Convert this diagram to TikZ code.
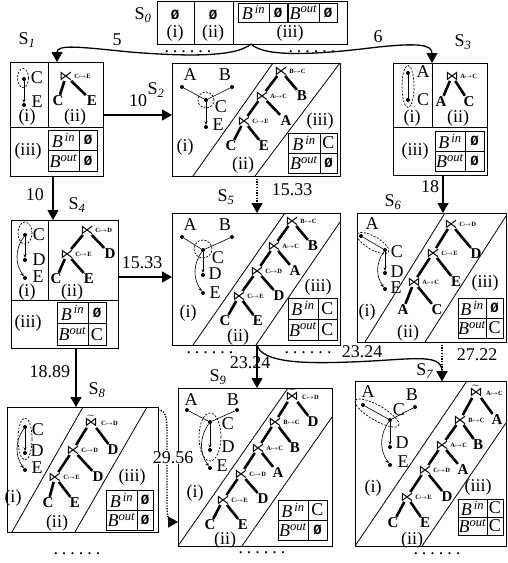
\documentclass[tikz,border=0pt]{standalone}
\usepackage{amssymb}
\usepackage{fontspec}
\setmainfont{Liberation Serif}
\newfontfamily\monof{Liberation Mono}
\newfontfamily\symf{DejaVu Sans}
\usetikzlibrary{arrows.meta,calc,fit}

\newcommand{\emp}{{\monof\bfseries\fontsize{14}{14}\selectfont Ø}}
\newcommand{\Bin}{\textit{B}\textsuperscript{\,\textit{in}}}
\newcommand{\Bout}{\textit{B}\textsuperscript{\textit{out}}}
\newcommand{\Sl}[1]{S\textsubscript{\textit{#1}}}
\newcommand{\sixdots}{.\hspace{4pt}.\hspace{4pt}.\hspace{4pt}.\hspace{4pt}.\hspace{4pt}.}
\newcommand{\jlt}[4]{\node[jn] (#1) at (#2) {⋉}; \node[sub] (#1s) at ([xshift=0.8pt]#1.east) {#3$\mapsto$#4};}
\newcommand{\jbt}[4]{\node[jn] (#1) at (#2) {⋈}; \node[sub] (#1s) at ([xshift=0.8pt]#1.east) {#3$\mapsto$#4};}
\newcommand{\jtt}[4]{\node[jn] (#1) at (#2) {$\widetilde{\hbox{\symf ⋈}}$}; \node[sub] (#1s) at ([xshift=2.5pt,yshift=-2.5pt]#1.east) {#3$\mapsto$#4};}
\newcommand{\btab}[9]{%
  \draw[tab] (#2,#5) rectangle (#4,#7);
  \draw[tab] (#2,#6) -- (#4,#6) (#3,#5) -- (#3,#7);
  \node[tt] (#1a) at ($(#2,#5)!0.5!(#3,#6)$) {\Bin};
  \node[tt] (#1b) at ($(#3,#5)!0.5!(#4,#6)$) {#8};
  \node[tt] (#1c) at ($(#2,#6)!0.5!(#3,#7)$) {\Bout};
  \node[tt] (#1d) at ($(#3,#6)!0.5!(#4,#7)$) {#9};
}

\tikzset{
 box/.style={draw, line width=0.9pt, inner sep=0pt, outer sep=0pt},
 div/.style={line width=0.9pt},
 band/.style={line width=0.8pt},
 tab/.style={line width=0.8pt},
 arr/.style={line width=1.3pt, -{Triangle[length=10pt,width=11pt]}},
 darr/.style={arr, dash pattern=on 1.3pt off 1.4pt},
 lbl/.style={inner sep=0pt, font=\fontsize{18}{18}\selectfont},
 tt/.style={inner sep=0pt, font=\fontsize{18}{18}\selectfont},
 gl/.style={inner sep=0pt, font=\fontsize{18}{18}\selectfont},
 gd/.style={circle, fill, inner sep=0pt, minimum size=4pt},
 ge/.style={line width=0.6pt},
 ga/.style={line width=0.6pt, -{Stealth[length=3.5pt,width=3pt]}},
 hull/.style={line width=0.7pt, dash pattern=on 2pt off 1.5pt},
 jn/.style={inner sep=0.3pt, font=\symf\fontsize{13}{13}\selectfont},
 sub/.style={anchor=west, inner sep=0.3pt, font=\fontsize{6.5}{6.5}\selectfont\bfseries},
 tc/.style={inner sep=1pt, font=\fontsize{15}{15}\selectfont\bfseries},
 tl/.style={line width=2.6pt},
 dts/.style={inner sep=0pt, font=\fontsize{18}{18}\selectfont},
}

\begin{document}
\begin{tikzpicture}[x=1pt,y=-1pt]
\useasboundingbox (0,0) rectangle (508,563);

% ---------- state boxes ----------
\node[box, fit={(157,1) (347,44)}] (S0) {};
\node[box, fit={(10,62) (103,176)}] (S1) {};
\node[box, fit={(172,63) (340,176)}] (S2) {};
\node[box, fit={(393,63) (487,175)}] (S3) {};
\node[box, fit={(11,220) (118,348)}] (S4) {};
\node[box, fit={(172,213) (340,345)}] (S5) {};
\node[box, fit={(357,213) (506,342)}] (S6) {};
\node[box, fit={(7,407) (158,532)}] (S8) {};
\node[box, fit={(178,388) (332,546)}] (S9) {};
\node[box, fit={(355,381) (506,546)}] (S7) {};

% dividers
\draw[div] (194,1) -- (194,44) (233,1) -- (233,44);
\draw[div] (48,62) -- (48,127) (10,127) -- (103,127);
\draw[div] (432,63) -- (432,127) (393,127) -- (487,127);
\draw[div] (48,220) -- (48,300) (11,300) -- (118,300);
% bands
\draw[band] (193,176) -- (273,63) (255,176) -- (340,63);
\draw[band] (193,345) -- (285,213) (256,345) -- (340,222);
\draw[band] (365,342) -- (445,213) (425,342) -- (506,216);
\draw[band] (12,532) -- (83,407) (75,532) -- (147,407);
\draw[band] (178,546) -- (288,388) (242,546) -- (332,417);
\draw[band] (355,546) -- (467,381) (422,546) -- (506,423);

% ---------- state labels ----------
\node[lbl] (l0) at (143,15) {\Sl{0}};
\node[lbl] (l1) at (27,40) {\Sl{1}};
\node[lbl] (l2) at (156,90) {\Sl{2}};
\node[lbl] (l3) at (463,42) {\Sl{3}};
\node[lbl] (l4) at (77,205) {\Sl{4}};
\node[lbl] (l5) at (226,197) {\Sl{5}};
\node[lbl] (l6) at (393,202) {\Sl{6}};
\node[lbl] (l7) at (425,371) {\Sl{7}};
\node[lbl] (l8) at (97,390) {\Sl{8}};
\node[lbl] (l9) at (218,377) {\Sl{9}};

% ---------- S0 ----------
\node[tt] (s0e1) at (175,15) {\emp};
\node[tt] (s0e2) at (213,15) {\emp};
\node[lbl] (s0i) at (175,33) {(i)};
\node[lbl] (s0ii) at (213,33) {(ii)};
\node[lbl] (s0iii) at (290,33) {(iii)};
\draw[tab] (238,3) rectangle (287,22) (269,3) -- (269,22);
\draw[tab] (288,3) rectangle (337,22) (319,3) -- (319,22);
\node[tt] (s0bi) at (253.5,12.5) {\Bin};
\node[tt] (s0vi) at (278,12.5) {\emp};
\node[tt] (s0bo) at (303.5,12.5) {\Bout};
\node[tt] (s0vo) at (328,12.5) {\emp};

% ---------- section labels ----------
\node[lbl] (s1i) at (27,117) {(i)};   \node[lbl] (s1ii) at (75,117) {(ii)};  \node[lbl] (s1iii) at (28,151) {(iii)};
\node[lbl] (s2i) at (185,147) {(i)};  \node[lbl] (s2ii) at (243,165) {(ii)}; \node[lbl] (s2iii) at (320,121) {(iii)};
\node[lbl] (s3i) at (412,118) {(i)};  \node[lbl] (s3ii) at (458,118) {(ii)}; \node[lbl] (s3iii) at (415,151) {(iii)};
\node[lbl] (s4i) at (27,292) {(i)};   \node[lbl] (s4ii) at (72,292) {(ii)};  \node[lbl] (s4iii) at (28,323) {(iii)};
\node[lbl] (s5i) at (188,313) {(i)};  \node[lbl] (s5ii) at (238,337) {(ii)}; \node[lbl] (s5iii) at (318,287) {(iii)};
\node[lbl] (s6i) at (367,312) {(i)};  \node[lbl] (s6ii) at (408,333) {(ii)}; \node[lbl] (s6iii) at (485,283) {(iii)};
\node[lbl] (s8i) at (13,498) {(i)};   \node[lbl] (s8ii) at (57,523) {(ii)};  \node[lbl] (s8iii) at (132,477) {(iii)};
\node[lbl] (s9i) at (195,493) {(i)};  \node[lbl] (s9ii) at (225,540) {(ii)};
\node[lbl] (s7i) at (373,488) {(i)};  \node[lbl] (s7ii) at (412,540) {(ii)}; \node[lbl] (s7iii) at (478,487) {(iii)};

% ---------- tables ----------
\btab{tb1}{48}{79}{97}{130}{150.5}{171}{\emp}{\emp}
\btab{tb2}{288}{320}{337}{133}{153}{173}{C}{\emp}
\btab{tb3}{435}{465}{484}{131}{151}{171}{\emp}{\emp}
\btab{tb4}{57}{88}{106}{302}{323.5}{345}{\emp}{C}
\btab{tb5}{288}{318}{337}{298}{319}{340}{C}{C}
\btab{tb6}{458}{486}{503}{298}{318}{338}{\emp}{C}
\btab{tb8}{106}{137}{153}{490}{510}{530}{\emp}{\emp}
\btab{tb9}{278}{308}{327}{500}{520}{540}{C}{\emp}
\btab{tb7}{458}{487}{503}{499}{517}{535}{C}{C}

% ---------- graphs (i) ----------
% S1
\node[gd] (g1C) at (24,79) {};  \node[gl] (g1Cl) at (37,78) {C};
\node[gd] (g1E) at (24,105) {}; \node[gl] (g1El) at (37,102) {E};
\draw[ga] (g1C) -- (g1E);
\draw[hull] (23,78) ellipse [x radius=5.5pt, y radius=9.5pt];
% S2
\node[gd] (g2A) at (182,87) {};  \node[gl] (g2Al) at (190,75) {A};
\node[gd] (g2B) at (232,87) {};  \node[gl] (g2Bl) at (225,75) {B};
\node[gd] (g2C) at (206,100) {}; \node[gl] (g2Cl) at (221,107) {C};
\node[gd] (g2E) at (206,127) {}; \node[gl] (g2El) at (218,125) {E};
\draw[ge] (g2A) -- (g2C); \draw[ge] (g2B) -- (g2C); \draw[ga] (g2C) -- (g2E);
\draw[hull] (206,100) circle [radius=8pt];
% S3
\node[gd] (g3A) at (408,73) {};  \node[gl] (g3Al) at (423,72) {A};
\node[gd] (g3C) at (408,100) {}; \node[gl] (g3Cl) at (423,100) {C};
\draw[ge, line width=0.9pt] (g3A) -- (g3C);
\draw[hull] (408,86.5) ellipse [x radius=6pt, y radius=21pt];
% S4
\node[gd] (g4C) at (25,235) {}; \node[gl] (g4Cl) at (39,235) {C};
\node[gd] (g4D) at (25,260) {}; \node[gl] (g4Dl) at (39,260) {D};
\node[gd] (g4E) at (25,278) {}; \node[gl] (g4El) at (38,277) {E};
\draw[ga] (g4C) -- (g4D); \draw[ga] (g4C) to[bend right=35] (g4E);
\draw[hull] (25,233) ellipse [x radius=7pt, y radius=11pt];
% S5
\node[gd] (g5A) at (182,237) {}; \node[gl] (g5Al) at (190,225) {A};
\node[gd] (g5B) at (232,237) {}; \node[gl] (g5Bl) at (225,225) {B};
\node[gd] (g5C) at (203,250) {}; \node[gl] (g5Cl) at (218,258) {C};
\node[gd] (g5D) at (203,275) {}; \node[gl] (g5Dl) at (215,274) {D};
\node[gd] (g5E) at (203,293) {}; \node[gl] (g5El) at (215,293) {E};
\draw[ge] (g5A) -- (g5C); \draw[ge] (g5B) -- (g5C);
\draw[ga] (g5C) -- (g5D); \draw[ga] (g5C) to[bend right=35] (g5E);
\draw[hull] (203,249) circle [radius=9pt];
% S6
\node[gd] (g6A) at (361,236) {}; \node[gl] (g6Al) at (372,224) {A};
\node[gd] (g6C) at (385,250) {}; \node[gl] (g6Cl) at (397,252) {C};
\node[gd] (g6D) at (385,273) {}; \node[gl] (g6Dl) at (397,272) {D};
\node[gd] (g6E) at (385,289) {}; \node[gl] (g6El) at (396,288) {E};
\draw[ge] (g6A) -- (g6C);
\draw[ga] (g6C) -- (g6D); \draw[ga] (g6C) to[bend right=35] (g6E);
\draw[hull] (373,243) ellipse [x radius=18pt, y radius=6.5pt, rotate=-30];
% S8
\node[gd] (g8C) at (25,427) {}; \node[gl] (g8Cl) at (38,430) {C};
\node[gd] (g8D) at (25,453) {}; \node[gl] (g8Dl) at (37,451) {D};
\node[gd] (g8E) at (25,470) {}; \node[gl] (g8El) at (37,468) {E};
\draw[ga] (g8C) -- (g8D); \draw[ga] (g8C) to[bend right=35] (g8E);
\draw[hull] (25,439) ellipse [x radius=7pt, y radius=21pt];
% S9
\node[gd] (g9A) at (187,410) {}; \node[gl] (g9Al) at (191,400) {A};
\node[gd] (g9B) at (237,410) {}; \node[gl] (g9Bl) at (233,400) {B};
\node[gd] (g9C) at (210,422) {}; \node[gl] (g9Cl) at (228,424) {C};
\node[gd] (g9D) at (210,450) {}; \node[gl] (g9Dl) at (228,447) {D};
\node[gd] (g9E) at (210,468) {}; \node[gl] (g9El) at (222,466) {E};
\draw[ge] (g9A) -- (g9C); \draw[ge] (g9B) -- (g9C);
\draw[ga] (g9C) -- (g9D); \draw[ga] (g9C) to[bend right=35] (g9E);
\draw[hull] (210,437) ellipse [x radius=11pt, y radius=24pt];
% S7
\node[gd] (g7A) at (363,405) {}; \node[gl] (g7Al) at (368,392) {A};
\node[gd] (g7B) at (415,407) {}; \node[gl] (g7Bl) at (412,395) {B};
\node[gd] (g7C) at (390,420) {}; \node[gl] (g7Cl) at (399,410) {C};
\node[gd] (g7D) at (390,447) {}; \node[gl] (g7Dl) at (402,443) {D};
\node[gd] (g7E) at (390,465) {}; \node[gl] (g7El) at (403,462) {E};
\draw[ge] (g7A) -- (g7C); \draw[ge] (g7B) -- (g7C);
\draw[ga] (g7C) -- (g7D); \draw[ga] (g7C) to[bend right=35] (g7E);
\draw[hull] (377,413) ellipse [x radius=25pt, y radius=7.5pt, rotate=-30];

% ---------- trees (ii) ----------
% S1
\jlt{t1a}{66,76}{C}{E}
\node[tc] (t1C) at (58,101) {C}; \node[tc] (t1E) at (92,101) {E};
% S2
\jlt{t2a}{281,71}{B}{C}
\jlt{t2b}{262,96}{A}{C}   \node[tc] (t2B) at (302,96) {B};
\jlt{t2c}{244,121}{C}{E}  \node[tc] (t2A) at (286,121) {A};
\node[tc] (t2C) at (231,146) {C}; \node[tc] (t2E) at (264,146) {E};
% S3
\jbt{t3a}{452,76}{A}{C}
\node[tc] (t3A) at (441,102) {A}; \node[tc] (t3C) at (469,102) {C};
% S4
\jlt{t4a}{87,230}{C}{D}
\jlt{t4b}{67,254}{C}{E}   \node[tc] (t4D) at (110,254) {D};
\node[tc] (t4C) at (56,279) {C}; \node[tc] (t4E) at (89,279) {E};
% S5
\jlt{t5a}{292,221}{B}{C}
\jlt{t5b}{274,246}{A}{C}  \node[tc] (t5B) at (313,246) {B};
\jlt{t5c}{257,271}{C}{D}  \node[tc] (t5A) at (295,271) {A};
\jlt{t5d}{239,296}{C}{E}  \node[tc] (t5D) at (279,296) {D};
\node[tc] (t5C) at (225,321) {C}; \node[tc] (t5E) at (258,321) {E};
% S6
\jlt{t6a}{451,224}{C}{D}
\jlt{t6b}{433,253}{C}{E}  \node[tc] (t6D) at (476,254) {D};
\jbt{t6c}{414,282}{A}{C}  \node[tc] (t6E) at (456,282) {E};
\node[tc] (t6A) at (403,310) {A}; \node[tc] (t6C) at (437,310) {C};
% S8
\jtt{t8a}{91,421}{C}{D}
\jlt{t8b}{73,450}{C}{D}   \node[tc] (t8D1) at (113,450) {D};
\jlt{t8c}{55,477}{C}{E}   \node[tc] (t8D2) at (98,477) {D};
\node[tc] (t8C) at (48,503) {C}; \node[tc] (t8E) at (75,503) {E};
% S9
\jtt{t9a}{292,395}{C}{D}
\jlt{t9b}{275,422}{B}{C}  \node[tc] (t9D1) at (313,422) {D};
\jlt{t9c}{258,448}{A}{C}  \node[tc] (t9B) at (295,448) {B};
\jlt{t9d}{241,474}{C}{D}  \node[tc] (t9A) at (278,473) {A};
\jlt{t9e}{223,500}{C}{E}  \node[tc] (t9D2) at (263,499) {D};
\node[tc] (t9C) at (210,525) {C}; \node[tc] (t9E) at (243,525) {E};
% S7
\jtt{t7a}{476,391}{A}{C}
\jlt{t7b}{460,420}{B}{C}  \node[tc] (t7A1) at (497,420) {A};
\jlt{t7c}{442,445}{A}{C}  \node[tc] (t7B) at (478,445) {B};
\jlt{t7d}{425,470}{C}{D}  \node[tc] (t7A2) at (463,470) {A};
\jlt{t7e}{407,497}{C}{E}  \node[tc] (t7D) at (447,497) {D};
\node[tc] (t7C) at (393,523) {C}; \node[tc] (t7E) at (425,523) {E};

\foreach \p/\c in {t1a/t1C, t1a/t1E,
  t2a/t2b, t2a/t2B, t2b/t2c, t2b/t2A, t2c/t2C, t2c/t2E,
  t3a/t3A, t3a/t3C,
  t4a/t4b, t4a/t4D, t4b/t4C, t4b/t4E,
  t5a/t5b, t5a/t5B, t5b/t5c, t5b/t5A, t5c/t5d, t5c/t5D, t5d/t5C, t5d/t5E,
  t6a/t6b, t6a/t6D, t6b/t6c, t6b/t6E, t6c/t6A, t6c/t6C,
  t8a/t8b, t8a/t8D1, t8b/t8c, t8b/t8D2, t8c/t8C, t8c/t8E,
  t9a/t9b, t9a/t9D1, t9b/t9c, t9b/t9B, t9c/t9d, t9c/t9A, t9d/t9e, t9d/t9D2, t9e/t9C, t9e/t9E,
  t7a/t7b, t7a/t7A1, t7b/t7c, t7b/t7B, t7c/t7d, t7c/t7A2, t7d/t7e, t7d/t7D, t7e/t7C, t7e/t7E}
  \draw[tl] (\p) -- (\c);

% ---------- transitions ----------
\draw[arr] ([xshift=-1pt]S0.south) .. controls (235,58) and (180,56) .. (130,52)
   .. controls (80,47) and (57,44) .. ([xshift=0.5pt]S1.north);
\draw[arr] ([xshift=-1pt]S0.south) .. controls (265,58) and (320,54) .. (370,48)
   .. controls (420,42) and (432,45) .. ([xshift=-8pt]S3.north);
\draw[arr] ([yshift=4pt]S1.east) -- ([yshift=4.5pt]S2.west);
\draw[arr] ([xshift=-3.5pt]S1.south) -- ([xshift=-11.5pt]S4.north);
\draw[darr] ([xshift=1pt]S2.south) -- ([xshift=1pt]S5.north);
\draw[arr] ([xshift=3pt]S3.south) -- ([xshift=11.5pt]S6.north);
\draw[arr] ([yshift=7pt]S4.east) -- ([yshift=2pt]S5.west);
\draw[arr] ([xshift=11.5pt]S4.south) -- ([xshift=-6.5pt]S8.north);
\draw[arr] ([xshift=1pt]S5.south) -- ([xshift=2pt]S9.north);
\draw[arr] ([xshift=1pt]S5.south) .. controls (262,362) and (300,364) .. (350,362)
   .. controls (410,360) and (442,352) .. ([xshift=11.5pt]S7.north);
\draw[darr] ([xshift=10.5pt]S6.south) -- ([xshift=11.5pt]S7.north);
\draw[darr] ([yshift=59.5pt]S8.east) .. controls (166,410) and (167,418) .. (167,432)
   -- (167,505) .. controls (167,518) and (170,522) .. ([yshift=-55pt]S9.west);

% ---------- weights ----------
\node[lbl] (w5) at (117,40) {5};
\node[lbl] (w6) at (378,37) {6};
\node[lbl] (w10a) at (138,101) {10};
\node[lbl] (w10b) at (35,195) {10};
\node[lbl] (w1533a) at (292,190) {15.33};
\node[lbl] (w18) at (430,187) {18};
\node[lbl] (w1533b) at (142,263) {15.33};
\node[lbl] (w1889) at (50,372) {18.89};
\node[lbl] (w2324a) at (250,363) {23.24};
\node[lbl] (w2324b) at (362,352) {23.24};
\node[lbl] (w2722) at (477,355) {27.22};
\node[lbl, fill=white] (w2956) at (173,458) {29.56};

% ---------- ellipses ----------
\node[dts] (dt1) at (188,52) {\sixdots};
\node[dts] (dt2) at (312,52) {\sixdots};
\node[dts] (dt3) at (210,353) {\sixdots};
\node[dts] (dt4) at (308,353) {\sixdots};
\node[dts] (dt5) at (77,554) {\sixdots};
\node[dts] (dt6) at (262,553) {\sixdots};
\node[dts] (dt7) at (437,554) {\sixdots};
\end{tikzpicture}
\end{document}
